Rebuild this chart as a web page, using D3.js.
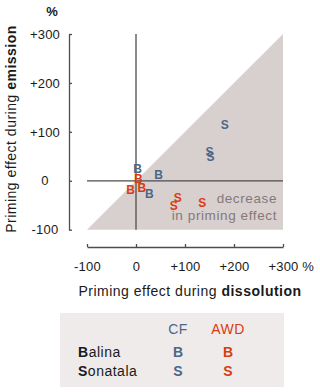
<!DOCTYPE html>
<html>
<head>
<meta charset="utf-8">
<script src="https://cdn.jsdelivr.net/npm/d3@7"></script>
<style>
body { margin: 0; background: #fff; }
svg { font-family: "Liberation Sans", Arial, sans-serif; }
</style>
</head>
<body>
<div id="chart"></div>
<script>
// values (percent)
var cfBalina = [[3, 25], [46, 12], [27, -27]];
var awdBalina = [[5, 4], [12, -14], [-11, -18]];
var cfSonatala = [[181, 114], [150, 59], [152, 49]];
var awdSonatala = [[85, -35], [77, -51], [135, -44]];
var tickVals = [-100, 0, 100, 200, 300];

var blue = "#4a6787", red = "#d93c10";

var series = [
    { pts: cfBalina, letter: "B", color: blue },
    { pts: cfSonatala, letter: "S", color: blue },
    { pts: awdBalina, letter: "B", color: red },
    { pts: awdSonatala, letter: "S", color: red }
];

var svg = d3.select("#chart").append("svg")
    .attr("width", 320)
    .attr("height", 392);

var x = d3.scaleLinear().domain([-100, 300]).range([87, 283]);
var y = d3.scaleLinear().domain([-100, 300]).range([229.7, 34]);

var fmt = function(d) { return d > 0 ? "+" + d : String(d); };

// shaded area: emission < dissolution
svg.append("path")
    .attr("d", "M" + x(-100) + "," + y(-100) + "L" + x(300) + "," + y(300) + "L" + x(300) + "," + y(-100) + "Z")
    .attr("fill", "#d8cfcf");

svg.append("text")
    .attr("x", 277).attr("y", 203)
    .attr("text-anchor", "end")
    .attr("fill", "#857979")
    .style("font-size", "13.5px").style("letter-spacing", "0.6px")
    .text("decrease");
svg.append("text")
    .attr("x", 277).attr("y", 220)
    .attr("text-anchor", "end")
    .attr("fill", "#857979")
    .style("font-size", "13.5px").style("letter-spacing", "0.6px")
    .text("in priming effect");

// zero lines
svg.append("line")
    .attr("x1", x(0)).attr("x2", x(0))
    .attr("y1", y(300)).attr("y2", y(-100))
    .attr("stroke", "#4d4d4d").attr("stroke-width", 1.3);
svg.append("line")
    .attr("x1", x(-100)).attr("x2", x(300))
    .attr("y1", y(0)).attr("y2", y(0))
    .attr("stroke", "#4d4d4d").attr("stroke-width", 1.3);

// y axis
var yAxis = svg.append("g")
    .attr("transform", "translate(69,0)")
    .call(d3.axisLeft(y).tickValues(tickVals).tickFormat(fmt).tickSizeInner(-3).tickSizeOuter(0));
yAxis.selectAll("text")
    .attr("x", -24).attr("text-anchor", "middle")
    .style("font-size", "13px").style("letter-spacing", "0.2px").attr("fill", "#1a1a1a");

// x axis
var xAxis = svg.append("g")
    .attr("transform", "translate(0,247)")
    .call(d3.axisBottom(x).tickValues(tickVals).tickFormat(fmt).tickSizeInner(-3).tickSizeOuter(0));
xAxis.selectAll("text")
    .attr("y", 15)
    .style("font-size", "13px").style("letter-spacing", "0.2px").attr("fill", "#1a1a1a");

svg.selectAll(".domain, .tick line").attr("stroke", "#4d4d4d").attr("stroke-width", 1.3);

svg.append("text").attr("x", 52).attr("y", 16).attr("text-anchor", "middle")
    .attr("font-weight", "bold")
    .style("font-size", "13px").attr("fill", "#1a1a1a").text("%");
svg.append("text").attr("x", 308).attr("y", 271).attr("text-anchor", "middle")
    .style("font-size", "13px").attr("fill", "#1a1a1a").text("%");

// axis titles
var xt = svg.append("text")
    .attr("x", 190).attr("y", 296)
    .attr("text-anchor", "middle").attr("fill", "#1a1a1a")
    .style("font-size", "14px").style("letter-spacing", "0.5px");
xt.append("tspan").text("Priming effect during ");
xt.append("tspan").attr("font-weight", "bold").text("dissolution");

var yt = svg.append("text")
    .attr("transform", "translate(16,129) rotate(-90)")
    .attr("text-anchor", "middle").attr("fill", "#1a1a1a")
    .style("font-size", "14px").style("letter-spacing", "0.5px");
yt.append("tspan").text("Priming effect during ");
yt.append("tspan").attr("font-weight", "bold").text("emission");

// points as letters
series.forEach(function(s) {
    svg.selectAll(null)
        .data(s.pts)
        .enter().append("text")
        .attr("x", function(d) { return x(d[0]); })
        .attr("y", function(d) { return y(d[1]); })
        .attr("dy", "0.36em")
        .attr("text-anchor", "middle")
        .attr("font-weight", "bold")
        .attr("fill", s.color)
        .style("font-size", "12px")
        .text(s.letter);
});

// legend
svg.append("rect")
    .attr("x", 60).attr("y", 313).attr("width", 224).attr("height", 74)
    .attr("fill", "#efebeb");

var cols = [{ name: "CF", color: blue, cx: 178 }, { name: "AWD", color: red, cx: 228 }];
var rows = [{ name: "Balina", letter: "B", yy: 357 }, { name: "Sonatala", letter: "S", yy: 376 }];

cols.forEach(function(c) {
    svg.append("text").attr("x", c.cx).attr("y", 334)
        .attr("text-anchor", "middle").attr("fill", c.color)
        .style("font-size", "14px").style("letter-spacing", "0.5px")
        .text(c.name);
});

rows.forEach(function(r) {
    var t = svg.append("text").attr("x", 78).attr("y", r.yy).attr("fill", "#1a1a1a")
        .style("font-size", "14px").style("letter-spacing", "0.5px");
    t.append("tspan").attr("font-weight", "bold").text(r.letter);
    t.append("tspan").text(r.name.slice(1));
    cols.forEach(function(c) {
        svg.append("text").attr("x", c.cx).attr("y", r.yy)
            .attr("text-anchor", "middle").attr("fill", c.color)
            .attr("font-weight", "bold")
            .style("font-size", "14px")
            .text(r.letter);
    });
});
</script>
</body>
</html>
